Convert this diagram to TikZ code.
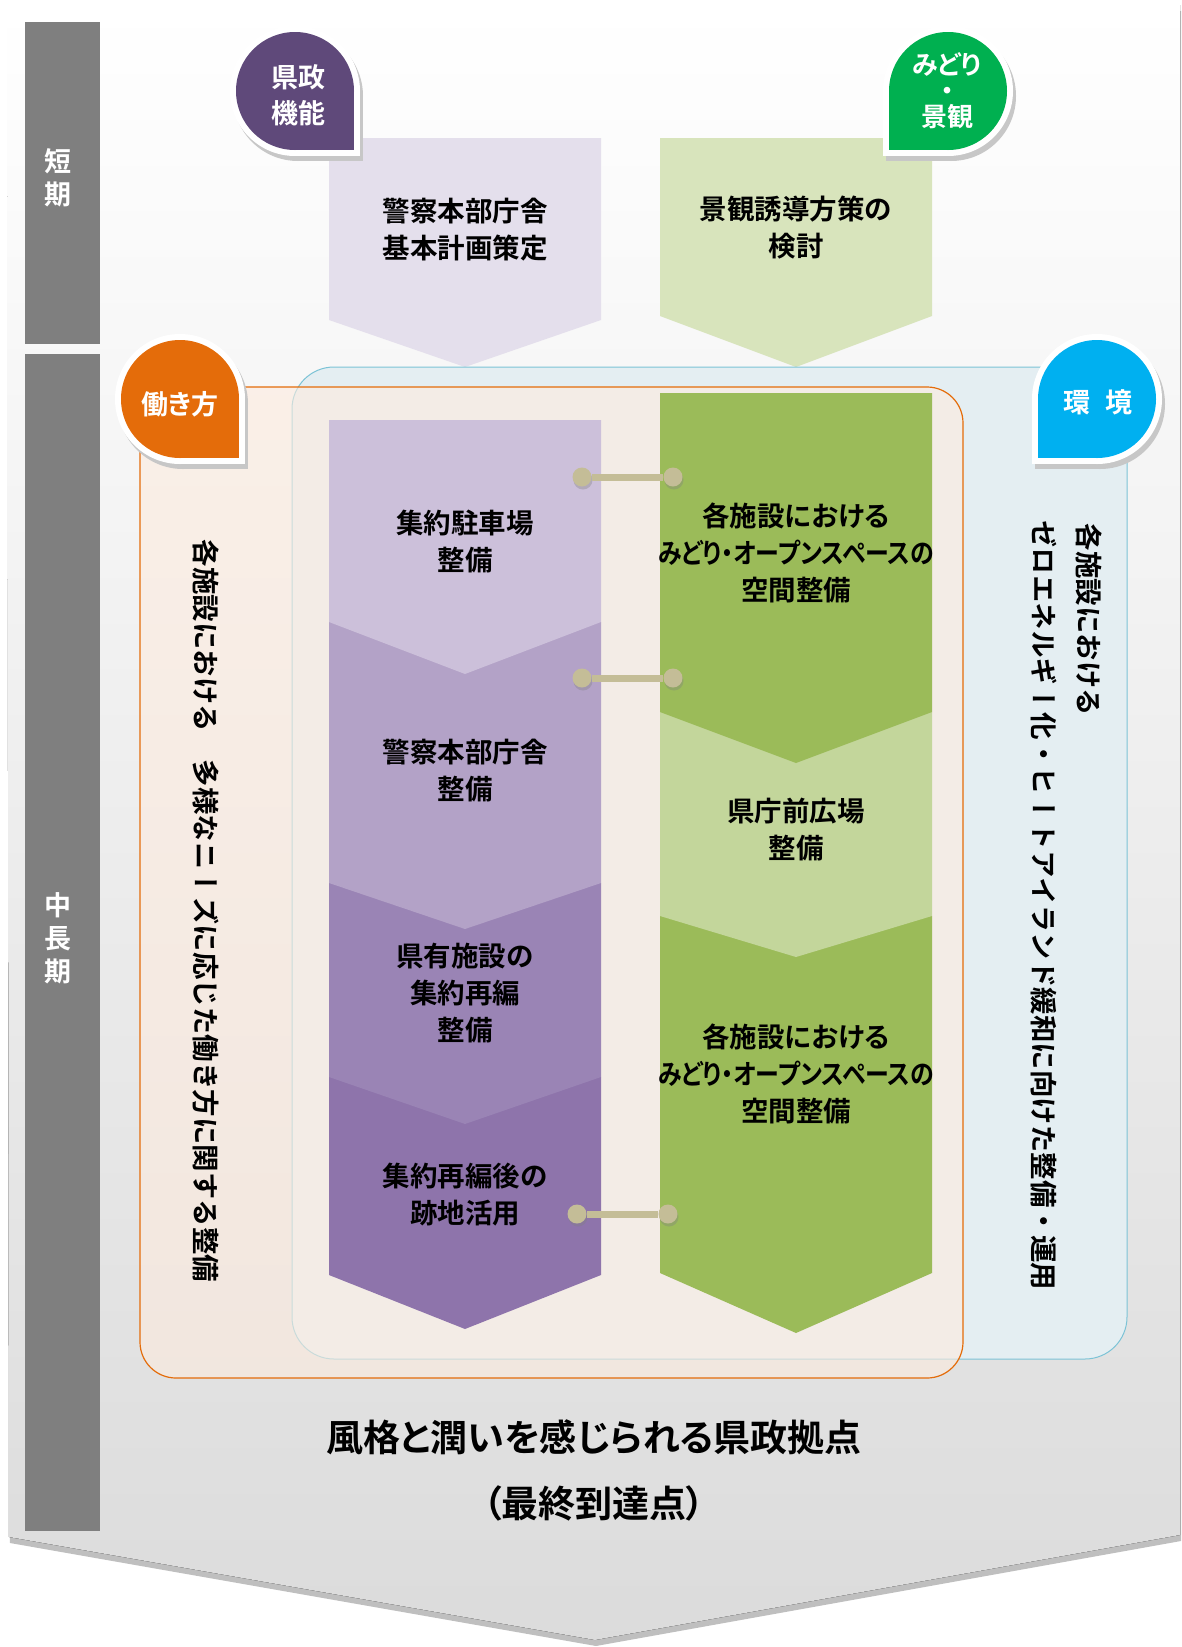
\documentclass[tikz,border=0pt]{standalone}
\usepackage{fontspec}
\setmainfont{Noto Sans CJK JP}[BoldFont={* Bold}, RawFeature=+palt]
\newfontfamily\tatefont{Noto Sans CJK JP}[BoldFont={* Bold}, Vertical=RotatedGlyphs]
\usetikzlibrary{shadows}

\definecolor{termgray}{HTML}{7F7F7F}
\definecolor{kenpurple}{HTML}{5F497A}
\definecolor{midgreen}{HTML}{00B050}
\definecolor{workorange}{HTML}{E46C0A}
\definecolor{envblue}{HTML}{00B0F0}
\definecolor{paleA}{HTML}{E4DFEC}
\definecolor{paleB}{HTML}{D8E4BC}
\definecolor{purA}{HTML}{CCC0DA}
\definecolor{purB}{HTML}{B3A2C7}
\definecolor{purC}{HTML}{9A84B5}
\definecolor{purD}{HTML}{8E74AB}
\definecolor{grnA}{HTML}{9BBB59}
\definecolor{grnB}{HTML}{C3D69B}
\definecolor{linktan}{HTML}{C4BD97}
\definecolor{envline}{HTML}{7CC3D6}
\definecolor{envfill}{HTML}{E4EEF2}
\definecolor{workfill}{HTML}{FDEBDE}

\begin{document}
\begin{tikzpicture}[x=1pt, y=-1pt,
    txt/.style={align=center, font=\bfseries\fontsize{27.5}{37}\selectfont},
    badgetxt/.style={align=center, text=white, font=\bfseries\fontsize{27}{36}\selectfont},
    termtxt/.style={align=center, text=white, font=\bfseries\fontsize{27}{33}\selectfont},
    tate/.style={rotate=-90, inner sep=0pt, font=\tatefont\bfseries\fontsize{27.5}{30}\selectfont},
    goal/.style={font=\bfseries\fontsize{37}{44}\selectfont},
    dot/.style={circle, fill=linktan, minimum size=19pt, inner sep=0pt,
        drop shadow={opacity=0.35, shadow xshift=1pt, shadow yshift=-3pt}},
    link/.style={draw=linktan, line width=7pt}]
\useasboundingbox (0,0) rectangle (1182,1647);

\fill[top color=white, bottom color=black!14,
    drop shadow={opacity=0.5, shadow xshift=1pt, shadow yshift=-6pt}]
    (7,5) -- (1180,5) -- (1180,1535) -- (595,1640) -- (9,1537) -- cycle;

\fill[termgray] (25,22) rectangle (100,344);
\fill[termgray] (25,354) rectangle (100,1531);

\fill[paleA] (329,138) -- (601,138) -- (601,320) -- (465,367) -- (329,320) -- cycle;
\fill[paleB] (660,138) -- (932,138) -- (932,316) -- (796,367) -- (660,316) -- cycle;

\filldraw[fill=envfill, draw=envline, line width=1pt, rounded corners=42pt] (292,367) rectangle (1127,1359);
\filldraw[fill=workfill, fill opacity=0.6, draw=workorange, line width=1.2pt, rounded corners=36pt] (140,387) rectangle (963,1378);

\fill[purD] (329,1077) -- (601,1077) -- (601,1275) -- (465,1329) -- (329,1275) -- cycle;
\fill[purC] (329,883) -- (601,883) -- (601,1077) -- (465,1124) -- (329,1077) -- cycle;
\fill[purB] (329,622) -- (601,622) -- (601,883) -- (465,929) -- (329,883) -- cycle;
\fill[purA] (329,420) -- (601,420) -- (601,622) -- (465,674) -- (329,622) -- cycle;

\fill[grnA] (660,916) -- (932,916) -- (932,1273) -- (796,1333) -- (660,1273) -- cycle;
\fill[grnB] (660,712) -- (932,712) -- (932,916) -- (796,957) -- (660,916) -- cycle;
\fill[grnA] (660,393) -- (932,393) -- (932,712) -- (796,763) -- (660,712) -- cycle;

\node[dot] (linkAl) at (582,477) {};
\node[dot] (linkAr) at (673,477) {};
\node[dot] (linkBl) at (582,678) {};
\node[dot] (linkBr) at (673,678) {};
\node[dot] (linkCl) at (577,1214) {};
\node[dot] (linkCr) at (668,1214) {};
\draw[link] (linkAl) -- (linkAr);
\draw[link] (linkBl) -- (linkBr);
\draw[link] (linkCl) -- (linkCr);

\foreach \cx/\cy/\s/\col in {295/91/1/kenpurple, 948/91/-1/midgreen, 180/399/1/workorange, 1097/399/-1/envblue}{
  \fill[black!22] (\cx+3,\cy+5) circle[radius=65pt];
  \fill[black!22] (\cx+3,\cy+5) rectangle ++(\s*65,65);
  \fill[white] (\cx,\cy) circle[radius=65pt];
  \fill[white] (\cx,\cy) rectangle ++(\s*65,65);
  \fill[\col] (\cx,\cy) circle[radius=59pt];
  \fill[\col] (\cx,\cy) rectangle ++(\s*59,59);
}

\node[termtxt] (short) at (58,178) {短\\期};
\node[termtxt] (long) at (58,938) {中\\長\\期};

\node[badgetxt] (kensei) at (298,95) {県政\\機能};
\node[badgetxt, font=\bfseries\fontsize{26}{26}\selectfont] (midori) at (947,91) {みどり\\・\\景観};
\node[badgetxt] (work) at (180,404) {働き方};
\node[badgetxt] (env) at (1098,402) {環\hspace{0.55em}境};

\node[txt] (plan) at (465,230) {警察本部庁舎\\基本計画策定};
\node[txt] (guide) at (796,228) {景観誘導方策の\\検討};
\node[txt] (park) at (465,541) {集約駐車場\\整備};
\node[txt] (police) at (465,771) {警察本部庁舎\\整備};
\node[txt] (reorg) at (465,993) {県有施設の\\集約再編\\整備};
\node[txt] (reuse) at (465,1195) {集約再編後の\\跡地活用};
\node[txt] (greenA) at (796,553) {各施設における\\\scalebox{0.87}[1]{みどり・オープンスペースの}\\空間整備};
\node[txt] (plaza) at (796,830) {県庁前広場\\整備};
\node[txt] (greenB) at (796,1074) {各施設における\\\scalebox{0.87}[1]{みどり・オープンスペースの}\\空間整備};

\node[tate] (workv) at (206,911) {各施設における　多様なニーズに応じた働き方に関する整備};
\node[tate] (envvA) at (1089,620) {各施設における};
\node[tate] (envvB) at (1044,905) {ゼロエネルギー化・ヒートアイランド緩和に向けた整備・運用};

\node[goal] (goal) at (594,1437) {風格と潤いを感じられる県政拠点};
\node[goal] (final) at (594,1503) {（最終到達点）};
\end{tikzpicture}
\end{document}
